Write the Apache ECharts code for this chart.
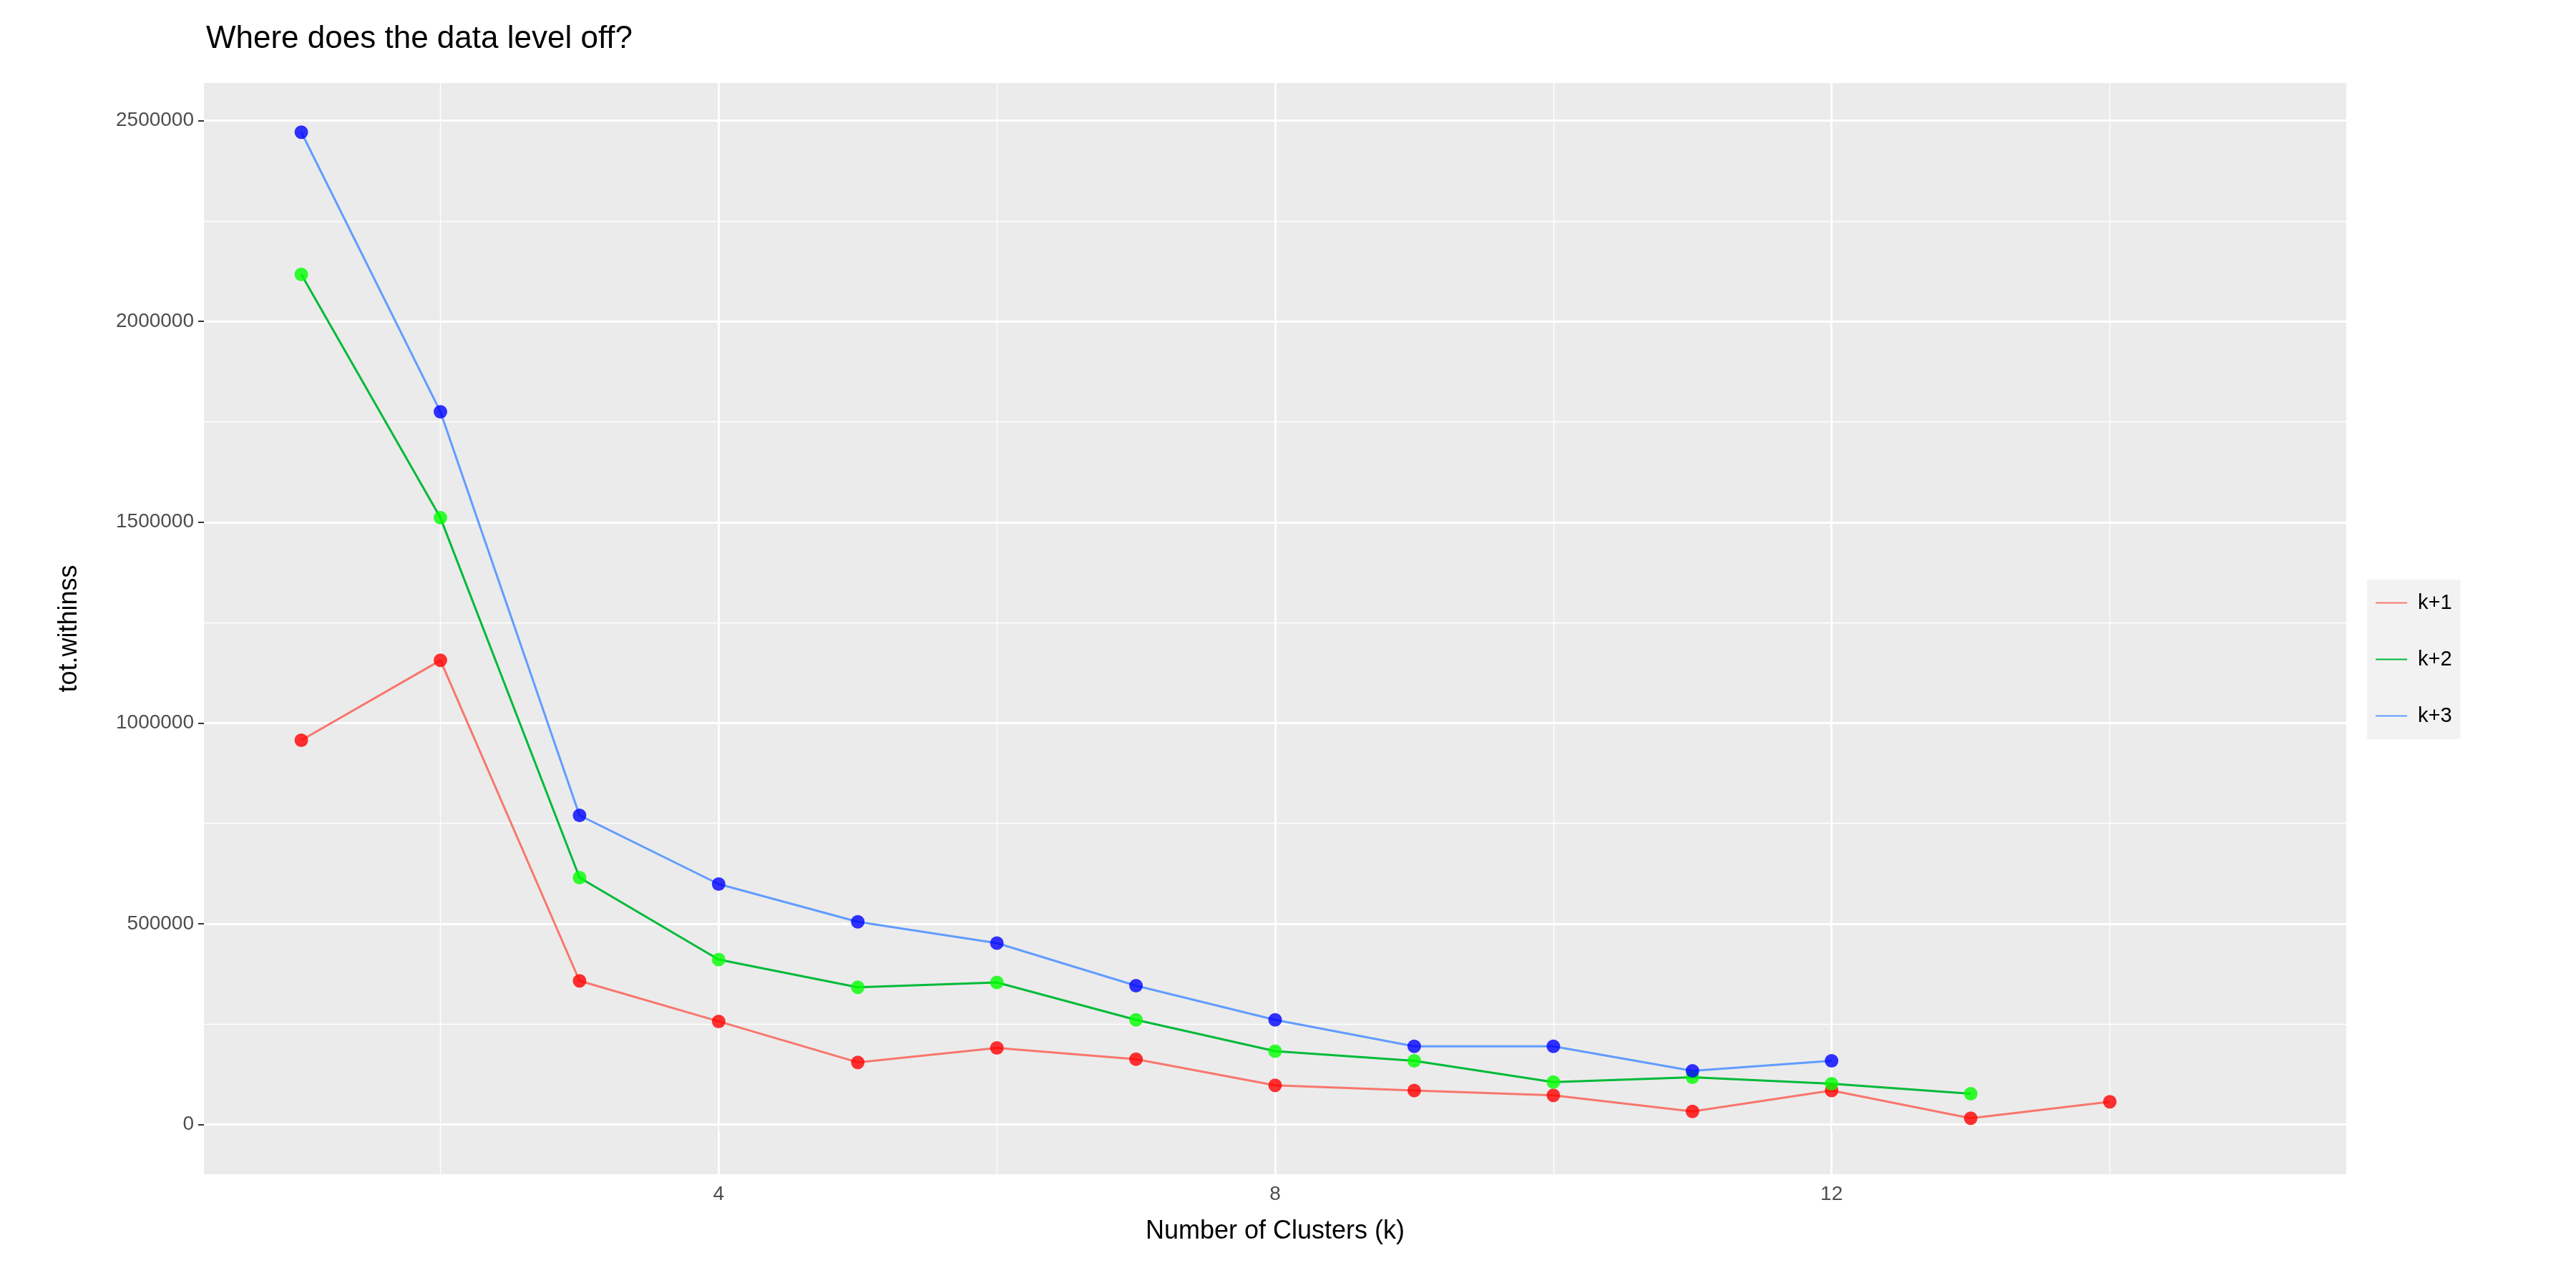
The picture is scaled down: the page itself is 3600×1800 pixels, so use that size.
<!DOCTYPE html>
<html>
<head>
<meta charset="utf-8">
<script src="https://cdn.jsdelivr.net/npm/echarts@6/dist/echarts.min.js"></script>
<style>
  html, body { margin: 0; padding: 0; background: #fff; }
  #chart { width: 3600px; height: 1800px; }
</style>
</head>
<body>
<div id="chart"></div>
<script>
// values
const clusters = [1, 2, 3, 4, 5, 6, 7, 8, 9, 10, 11, 12, 13, 14];
const k1 = [957000, 1156000, 358000, 257000, 155000, 191000, 163000, 98000, 85000, 73000, 33000, 85000, 16000, 57000];
const k2 = [2117000, 1511000, 615000, 411000, 342000, 354000, 261000, 183000, 159000, 106000, 118000, 102000, 77000];
const k3 = [2471000, 1775000, 770000, 599000, 505000, 452000, 346000, 261000, 195000, 195000, 134000, 159000];
const xTicks = [4, 8, 12];
const xMinor = [2, 6, 10, 14];
const yTicks = [0, 500000, 1000000, 1500000, 2000000, 2500000];
const yMinor = [250000, 750000, 1250000, 1750000, 2250000];

const lineColors = ['#F8766D', '#00BA38', '#619CFF'];
const pointColors = ['#FF0000', '#00FF00', '#0000FF'];
const names = ['k+1', 'k+2', 'k+3'];
const sets = [k1, k2, k3];

function pairs(vals) {
    return vals.map((v, i) => [clusters[i], v]);
}

const gridLines = [];
xMinor.forEach(v => gridLines.push({ xAxis: v, lineStyle: { width: 1.3 } }));
yMinor.forEach(v => gridLines.push({ yAxis: v, lineStyle: { width: 1.3 } }));
xTicks.forEach(v => gridLines.push({ xAxis: v, lineStyle: { width: 2.8 } }));
yTicks.forEach(v => gridLines.push({ yAxis: v, lineStyle: { width: 2.8 } }));

const series = [{
    type: 'line',
    data: [],
    silent: true,
    z: 0,
    markLine: {
        silent: true,
        symbol: 'none',
        label: { show: false },
        animation: false,
        lineStyle: { color: '#FFFFFF', type: 'solid' },
        data: gridLines
    }
}];
sets.forEach((vals, i) => {
    series.push({
        name: names[i],
        type: 'line',
        data: pairs(vals),
        symbol: 'none',
        silent: true,
        lineStyle: { color: lineColors[i], width: 3 },
        itemStyle: { color: lineColors[i] },
        z: 5
    });
});
sets.forEach((vals, i) => {
    series.push({
        type: 'scatter',
        data: pairs(vals),
        symbolSize: 19,
        silent: true,
        itemStyle: { color: pointColors[i] },
        z: 6
    });
});

const tickLabel = { color: '#4D4D4D', fontSize: 28, fontFamily: 'Liberation Sans, Arial', margin: 14 };

const chart = echarts.init(document.getElementById('chart'));
chart.setOption({
    animation: false,
    title: {
        text: 'Where does the data level off?',
        left: 283, top: 28,
        textStyle: { fontSize: 44, fontWeight: 'normal', color: '#000', fontFamily: 'Liberation Sans, Arial' }
    },
    grid: { left: 285, right: 321, top: 116, bottom: 159, backgroundColor: '#EBEBEB', show: true, borderWidth: 0 },
    legend: {
        data: names,
        orient: 'vertical',
        left: 3308, top: 810,
        itemWidth: 44, itemHeight: 20, itemGap: 50,
        padding: [18, 12, 18, 12],
        backgroundColor: '#F2F2F2',
        icon: 'path://M0,9 L44,9 L44,11 L0,11 Z',
        textStyle: { fontSize: 29, color: '#000', fontFamily: 'Liberation Sans, Arial', padding: [0, 0, 0, 10] }
    },
    xAxis: {
        type: 'value', min: 0.3, max: 15.7,
        name: 'Number of Clusters (k)', nameLocation: 'middle', nameGap: 62,
        nameTextStyle: { fontSize: 36, color: '#000', fontFamily: 'Liberation Sans, Arial' },
        axisLine: { show: false },
        axisTick: { show: true, customValues: xTicks, length: 8, lineStyle: { color: '#333', width: 2 } },
        axisLabel: Object.assign({ customValues: xTicks }, tickLabel),
        splitLine: { show: false }
    },
    yAxis: {
        type: 'value', min: -123500, max: 2593500,
        name: 'tot.withinss', nameLocation: 'middle', nameGap: 170,
        nameTextStyle: { fontSize: 36, color: '#000', fontFamily: 'Liberation Sans, Arial' },
        axisLine: { show: false },
        axisTick: { show: true, customValues: yTicks, length: 8, lineStyle: { color: '#333', width: 2 } },
        axisLabel: Object.assign({ customValues: yTicks, formatter: v => String(v) }, tickLabel),
        splitLine: { show: false }
    },
    series: series
});
</script>
</body>
</html>
